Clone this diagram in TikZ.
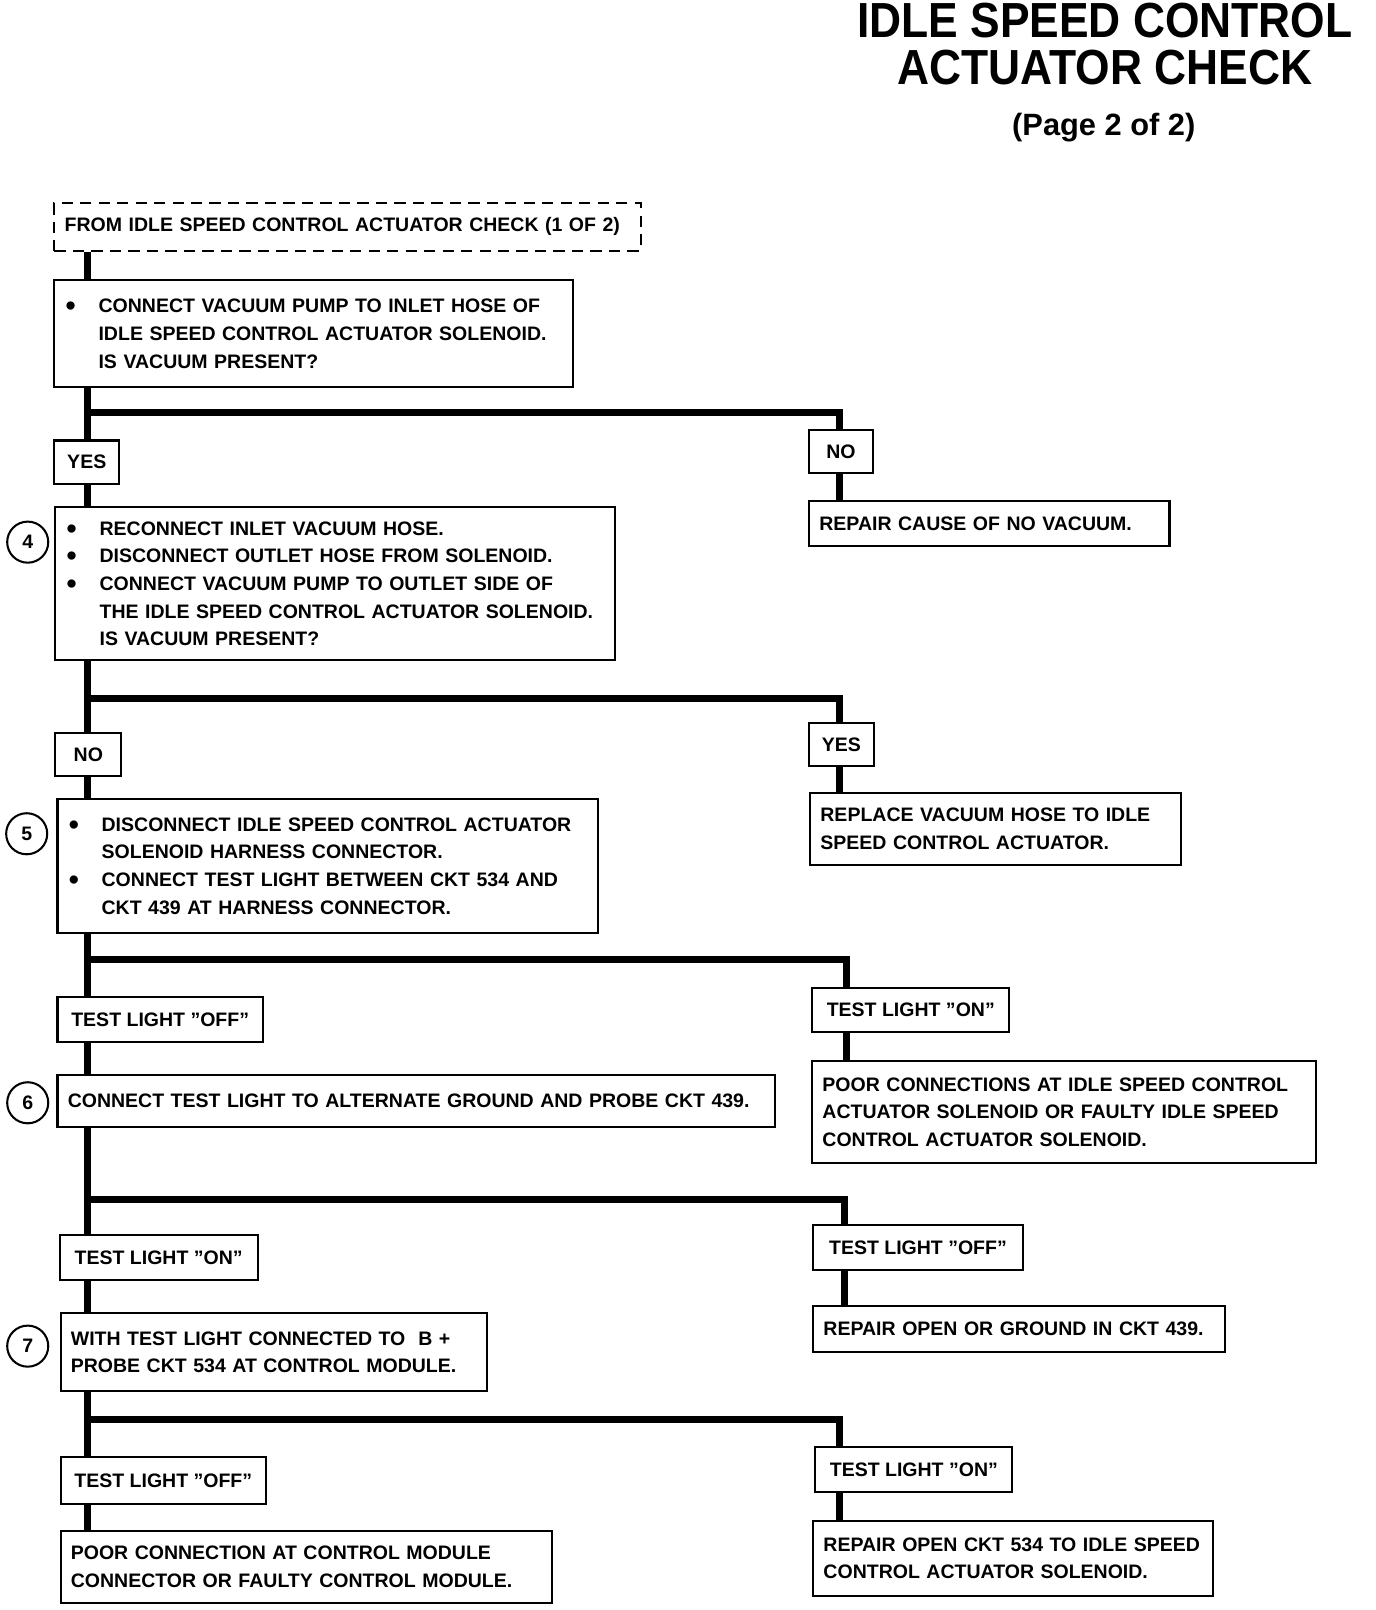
\documentclass[tikz,border=0pt]{standalone}
\usepackage{fontspec}
\setmainfont{Liberation Sans}
\newfontfamily\titlefont[FakeStretch=0.9]{Liberation Sans}
\usetikzlibrary{positioning}
\newcommand\boxfont{\fontsize{9.5}{13.5}\selectfont\bfseries}
\newcommand\bul{\makebox[16.5pt][l]{\hspace{0.5pt}\raisebox{-1.5pt}{\fontsize{14}{14}\selectfont\textbullet}}}
\newcommand\indt{\hspace*{16.5pt}}

\begin{document}
\begin{tikzpicture}[x=0.5pt, y=-0.5pt,
	box/.style={draw, line width=1pt, anchor=north west, inner xsep=5pt, inner ysep=2pt, align=left, font=\boxfont},
	ans/.style={draw, line width=1pt, anchor=north west, inner sep=0pt, align=center, font=\boxfont},
	num/.style={circle, draw, line width=1pt, minimum size=20pt, inner sep=0pt, font=\boxfont},
	link/.style={line width=3.4pt, line join=miter}]
	\useasboundingbox (0,0) rectangle (1340,1568);
	% title
	\node (title1) [anchor=base] at (1076,37) {\titlefont\fontsize{24}{24}\selectfont\bfseries IDLE SPEED CONTROL};
	\node (title2) [anchor=base] at (1076,82) {\titlefont\fontsize{24}{24}\selectfont\bfseries ACTUATOR CHECK};
	\node (page) [anchor=base] at (1075,132) {\fontsize{15}{15}\selectfont\bfseries (Page 2 of 2)};
	% left column
	\node (start) [box, dashed, dash pattern=on 5.5pt off 3.5pt, text width=275.5pt, minimum height=23pt] at (52,197) {FROM IDLE SPEED CONTROL ACTUATOR CHECK (1 OF 2)};
	\node (chk1) [box, text width=242.5pt, minimum height=52pt] at (52,272) {\bul CONNECT VACUUM PUMP TO INLET HOSE OF\\ \indt IDLE SPEED CONTROL ACTUATOR SOLENOID.\\ \indt IS VACUUM PRESENT?};
	\node (yes1) [ans, minimum width=31.5pt, minimum height=21pt] at (52,428) {YES};
	\node (chk4) [box, text width=262.5pt, minimum height=74.5pt] at (53,493) {\bul RECONNECT INLET VACUUM HOSE.\\ \bul DISCONNECT OUTLET HOSE FROM SOLENOID.\\ \bul CONNECT VACUUM PUMP TO OUTLET SIDE OF\\ \indt THE IDLE SPEED CONTROL ACTUATOR SOLENOID.\\ \indt IS VACUUM PRESENT?};
	\node (no4) [ans, minimum width=32pt, minimum height=21pt] at (53,713) {NO};
	\node (chk5) [box, text width=253pt, minimum height=65.5pt] at (55,777) {\bul DISCONNECT IDLE SPEED CONTROL ACTUATOR\\ \indt SOLENOID HARNESS CONNECTOR.\\ \bul CONNECT TEST LIGHT BETWEEN CKT 534 AND\\ \indt CKT 439 AT HARNESS CONNECTOR.};
	\node (off5) [ans, minimum width=100pt, minimum height=22pt] at (55,970) {TEST LIGHT ”OFF”};
	\node (chk6) [box, text width=339.5pt, minimum height=25.5pt] at (55,1046) {CONNECT TEST LIGHT TO ALTERNATE GROUND AND PROBE CKT 439.};
	\node (on6) [ans, minimum width=96.5pt, minimum height=22pt] at (57,1202) {TEST LIGHT ”ON”};
	\node (chk7) [box, text width=197.5pt, minimum height=38pt] at (58,1278) {WITH TEST LIGHT CONNECTED TO \ B +\\ PROBE CKT 534 AT CONTROL MODULE.};
	\node (off7) [ans, minimum width=100pt, minimum height=23pt] at (58,1418) {TEST LIGHT ”OFF”};
	\node (fix7a) [box, text width=229.5pt, minimum height=35pt] at (58,1490) {POOR CONNECTION AT CONTROL MODULE\\ CONNECTOR OR FAULTY CONTROL MODULE.};
	% step numbers
	\node (c4) [num] at (27,528) {4};
	\node (c5) [num] at (26,812) {5};
	\node (c6) [num] at (27,1074) {6};
	\node (c7) [num] at (27,1311) {7};
	% right column
	\node (no1) [ans, minimum width=31pt, minimum height=21pt] at (787,418) {NO};
	\node (fix1) [box, text width=165.5pt, minimum height=22pt] at (787,487) {REPAIR CAUSE OF NO VACUUM.};
	\node (yes4) [ans, minimum width=31.5pt, minimum height=21pt] at (787,703) {YES};
	\node (fix4) [box, text width=170.5pt, minimum height=35pt] at (788,771) {REPLACE VACUUM HOSE TO IDLE\\ SPEED CONTROL ACTUATOR.};
	\node (on5) [ans, minimum width=96pt, minimum height=21.5pt] at (790,961) {TEST LIGHT ”ON”};
	\node (fix5) [box, text width=235.5pt, minimum height=50pt] at (790,1032) {POOR CONNECTIONS AT IDLE SPEED CONTROL\\ ACTUATOR SOLENOID OR FAULTY IDLE SPEED\\ CONTROL ACTUATOR SOLENOID.};
	\node (off6) [ans, minimum width=102pt, minimum height=22pt] at (791,1192) {TEST LIGHT ”OFF”};
	\node (fix6) [box, text width=190.5pt, minimum height=22.5pt] at (791,1271) {REPAIR OPEN OR GROUND IN CKT 439.};
	\node (on7) [ans, minimum width=96pt, minimum height=22pt] at (793,1408) {TEST LIGHT ”ON”};
	\node (fix7b) [box, text width=184.5pt, minimum height=36.5pt] at (791,1480) {REPAIR OPEN CKT 534 TO IDLE SPEED\\ CONTROL ACTUATOR SOLENOID.};
	% junctions
	\coordinate (tx) at (85,0);
	\coordinate (j1) at (85,402);  \coordinate (k1) at (818,402);
	\coordinate (j4) at (85,680);  \coordinate (k4) at (818,680);
	\coordinate (j5) at (85,934);  \coordinate (k5) at (824,934);
	\coordinate (j6) at (85,1168); \coordinate (k6) at (822,1168);
	\coordinate (j7) at (85,1382); \coordinate (k7) at (818,1382);
	% trunk
	\path [link]
	(start.south -| tx) edge (chk1.north -| tx)
	(chk1.south -| tx) edge (yes1.north -| tx)
	(yes1.south -| tx) edge (chk4.north -| tx)
	(chk4.south -| tx) edge (no4.north -| tx)
	(no4.south -| tx) edge (chk5.north -| tx)
	(chk5.south -| tx) edge (off5.north -| tx)
	(off5.south -| tx) edge (chk6.north -| tx)
	(chk6.south -| tx) edge (on6.north -| tx)
	(on6.south -| tx) edge (chk7.north -| tx)
	(chk7.south -| tx) edge (off7.north -| tx)
	(off7.south -| tx) edge (fix7a.north -| tx);
	% branches
	\draw [link] (j1) -- (k1) -- (no1.north -| k1);
	\draw [link] (no1.south -| k1) -- (fix1.north -| k1);
	\draw [link] (j4) -- (k4) -- (yes4.north -| k4);
	\draw [link] (yes4.south -| k4) -- (fix4.north -| k4);
	\draw [link] (j5) -- (k5) -- (on5.north -| k5);
	\draw [link] (on5.south -| k5) -- (fix5.north -| k5);
	\draw [link] (j6) -- (k6) -- (off6.north -| k6);
	\draw [link] (off6.south -| k6) -- (fix6.north -| k6);
	\draw [link] (j7) -- (k7) -- (on7.north -| k7);
	\draw [link] (on7.south -| k7) -- (fix7b.north -| k7);
\end{tikzpicture}
\end{document}
